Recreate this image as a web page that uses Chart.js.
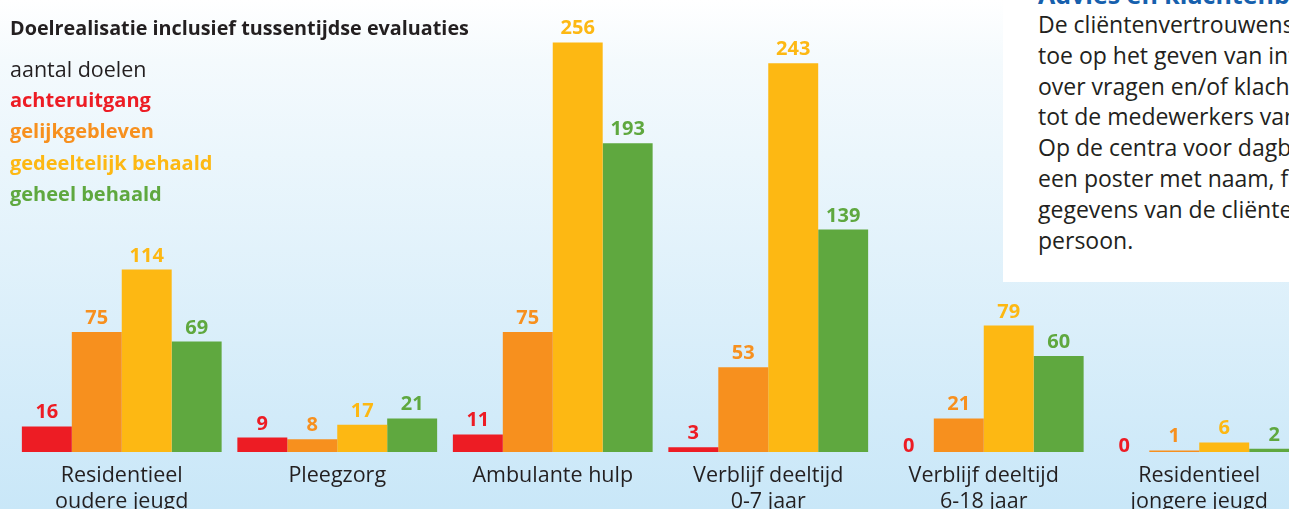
<!DOCTYPE html>
<html>
<head>
<meta charset="utf-8">
<script src="https://cdn.jsdelivr.net/npm/chart.js@4"></script>
<style>
  html, body { margin: 0; padding: 0; }
  body {
    width: 1289px; height: 509px; overflow: hidden; position: relative;
    background: linear-gradient(#ffffff 0%, #f4fafd 12%, #c9e7f8 100%);
    font-family: "Open Sans", sans-serif; color: #231f20;
  }
  #wrap { position: absolute; left: 0; top: 0; width: 1310px; height: 509px; }
  #title { position: absolute; left: 10px; top: 14px; font-weight: bold; font-size: 19.8px; white-space: nowrap; }
  #legend { position: absolute; left: 10px; top: 53px; line-height: 31.2px; }
  #legend div { white-space: nowrap; font-size: 20px; font-weight: bold; }
  #legend div.head { font-size: 21.5px; font-weight: normal; }
  #box {
    position: absolute; left: 1003px; top: 0; width: 320px; height: 282px;
    background: #ffffff; z-index: 2; overflow: hidden;
  }
  #box h3 { position: absolute; left: 35px; top: -23px; margin: 0; font-size: 25px; color: #1660ad; white-space: nowrap; }
  #box p { position: absolute; left: 35px; top: 9px; margin: 0; font-size: 23px; line-height: 30.8px; white-space: nowrap; }
</style>
</head>
<body>
<div id="wrap"><canvas id="chart"></canvas></div>
<div id="title">Doelrealisatie inclusief tussentijdse evaluaties</div>
<div id="legend"></div>
<div id="box">
  <h3>Advies en klachtenbehandeling</h3>
  <p>De cliëntenvertrouwenspersoon<br>toe op het geven van informatie<br>over vragen en/of klachten<br>tot de medewerkers van<br>Op de centra voor dagbesteding<br>een poster met naam, foto<br>gegevens van de cliëntenvertrouwens-<br>persoon.</p>
</div>
<script>
// categories and series
const categories = [
  ["Residentieel", "oudere jeugd"],
  "Pleegzorg",
  "Ambulante hulp",
  ["Verblijf deeltijd", "0-7 jaar"],
  ["Verblijf deeltijd", "6-18 jaar"],
  ["Residentieel", "jongere jeugd"]
];
const seriesNames = ["achteruitgang", "gelijkgebleven", "gedeeltelijk behaald", "geheel behaald"];
const achteruitgang = [16, 9, 11, 3, 0, 0];
const gelijkgebleven = [75, 8, 75, 53, 21, 1];
const gedeeltelijk = [114, 17, 256, 243, 79, 6];
const geheel = [69, 21, 193, 139, 60, 2];
const colors = ["#ed1c24", "#f7901e", "#fdb813", "#5fa83f"];

// legend as plain text lines
const legend = document.getElementById("legend");
const head = document.createElement("div");
head.className = "head";
head.textContent = "aantal doelen";
legend.appendChild(head);
seriesNames.forEach((name, i) => {
  const d = document.createElement("div");
  d.textContent = name;
  d.style.color = colors[i];
  legend.appendChild(d);
});

// numbers above the bars
const valueLabels = {
  id: "valueLabels",
  afterDatasetsDraw(chart) {
    const ctx = chart.ctx;
    ctx.save();
    ctx.font = 'bold 20px "Open Sans"';
    ctx.textAlign = "center";
    ctx.textBaseline = "alphabetic";
    chart.data.datasets.forEach((ds, i) => {
      chart.getDatasetMeta(i).data.forEach((bar, j) => {
        const v = ds.data[j];
        ctx.fillStyle = ds.backgroundColor;
        ctx.fillText(String(v), bar.x, v === 0 ? bar.y : bar.y - 8);
      });
    });
    ctx.restore();
  }
};

const allSeries = [achteruitgang, gelijkgebleven, gedeeltelijk, geheel];

new Chart(document.getElementById("chart"), {
  type: "bar",
  data: {
    labels: categories,
    datasets: allSeries.map((data, i) => ({
      label: seriesNames[i],
      data,
      backgroundColor: colors[i],
      borderWidth: 0,
      barPercentage: 1,
      categoryPercentage: 0.927
    }))
  },
  options: {
    responsive: true,
    maintainAspectRatio: false,
    animation: false,
    layout: { padding: { left: 14, right: 3, top: 4, bottom: 0 } },
    plugins: { legend: { display: false }, tooltip: { enabled: false } },
    scales: {
      x: {
        grid: { display: false, drawTicks: false },
        border: { display: false },
        ticks: {
          color: "#231f20",
          padding: 11,
          maxRotation: 0,
          autoSkip: false,
          font: { family: "Open Sans", size: 21.5, lineHeight: "26px" }
        },
        afterFit: (scale) => { scale.height = 57; }
      },
      y: { display: false, min: 0, max: 280 }
    }
  },
  plugins: [valueLabels]
});
</script>
</body>
</html>
